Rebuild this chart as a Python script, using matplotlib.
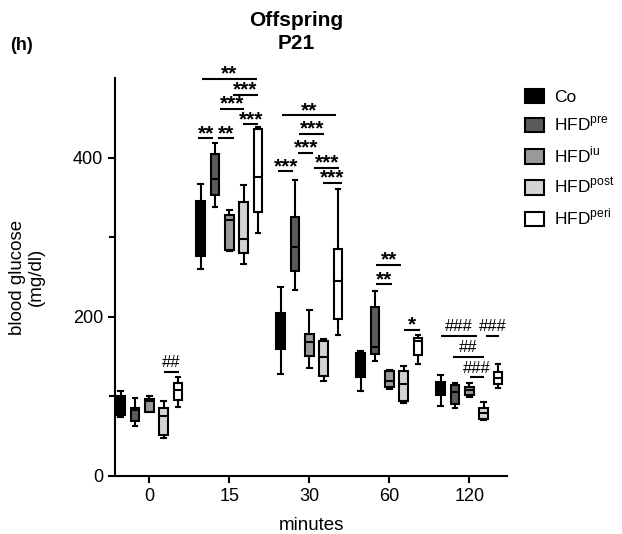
import matplotlib
matplotlib.use("Agg")
import matplotlib.pyplot as plt
from matplotlib.patches import Patch

plt.rcParams['font.family'] = ['Liberation Sans', 'DejaVu Sans']
plt.rcParams['mathtext.fontset'] = 'custom'
plt.rcParams['mathtext.rm'] = 'Liberation Sans'

# ---------------- data ----------------
time_labels = ["0", "15", "30", "60", "120"]
groups = ["Co", "HFD$^{\\mathregular{pre}}$", "HFD$^{\\mathregular{iu}}$",
          "HFD$^{\\mathregular{post}}$", "HFD$^{\\mathregular{peri}}$"]

# each row: [min, q1, median, q3, max] for time points 0, 15, 30, 60, 120
co_stats = [[74, 77, 88, 100, 107],
            [260, 276, 310, 346, 367],
            [128, 160, 185, 205, 237],
            [107, 124, 140, 155, 157],
            [88, 102, 110, 118, 127]]
pre_stats = [[63, 69, 83, 86, 98],
             [338, 353, 373, 405, 418],
             [234, 258, 288, 325, 372],
             [145, 153, 162, 212, 233],
             [86, 91, 105, 114, 117]]
iu_stats = [[80, 80, 94, 97, 100],
            [283, 284, 322, 328, 334],
            [136, 151, 168, 179, 209],
            [109, 112, 119, 132, 133],
            [99, 102, 108, 112, 117]]
post_stats = [[48, 52, 76, 86, 94],
              [266, 280, 298, 344, 366],
              [119, 126, 150, 170, 172],
              [92, 94, 115, 132, 138],
              [70, 72, 79, 85, 93]]
peri_stats = [[87, 96, 108, 117, 125],
              [305, 332, 375, 436, 438],
              [177, 197, 245, 285, 360],
              [141, 152, 170, 173, 177],
              [111, 116, 123, 131, 141]]

# significance annotations: (time index, from box, to box, y value, label)
sig_time = [0, 1, 1, 1, 1, 1, 1, 2, 2, 2, 2, 2, 2, 3, 3, 3, 4, 4, 4, 4]
sig_from = [3.03, 0.07, 2.22, 1.35, 2.98, -0.17, 1.22, -0.17, 0.07, 1.28, 1.19, 2.35, 2.94,
            1.07, 1.07, 3.05, 0.04, 3.15, 0.85, 2.05]
sig_to = [4.08, 3.92, 3.99, 3.02, 4.02, 0.88, 2.32, 0.88, 3.86, 3.03, 2.28, 4.1, 4.26,
          2.82, 2.17, 4.15, 2.54, 4.08, 2.99, 3.03]
sig_y = [131, 499, 479, 461, 442, 424, 424, 383, 453, 430, 406, 387, 368,
         265, 241, 184, 176, 176, 150, 124]
sig_text = ["##", "**", "***", "***", "***", "**", "**", "***", "**", "***", "***", "***", "***",
            "**", "**", "*", "###", "###", "##", "###"]

# ---------------- style ----------------
colors = ["#000000", "#5a5a5a", "#9a9a9a", "#d4d4d4", "#ffffff"]
spacing = 0.179
LW = 1.5

fig = plt.figure(figsize=(6.22, 5.34), dpi=100)
ax = fig.add_axes([115/622, 58/534, 392/622, 398/534])

all_stats = [co_stats, pre_stats, iu_stats, post_stats, peri_stats]
for k, (st, col) in enumerate(zip(all_stats, colors)):
    bstats = []
    pos = []
    for t, row in enumerate(st):
        lo, q1, med, q3, hi = row
        bstats.append(dict(whislo=lo, q1=q1, med=med, q3=q3, whishi=hi, fliers=[]))
        pos.append(t + (k - 2) * spacing)
    ax.bxp(bstats, positions=pos, widths=0.11, capwidths=0.06, showfliers=False,
           patch_artist=True,
           boxprops=dict(facecolor=col, edgecolor='black', linewidth=LW),
           medianprops=dict(color='black', linewidth=LW),
           whiskerprops=dict(color='black', linewidth=LW),
           capprops=dict(color='black', linewidth=LW),
           manage_ticks=False)

for t, a, b, y, s in zip(sig_time, sig_from, sig_to, sig_y, sig_text):
    x0 = t + (a - 2) * spacing
    x1 = t + (b - 2) * spacing
    ax.plot([x0, x1], [y, y], color='black', lw=LW, clip_on=False, solid_capstyle='butt')
    if '*' in s:
        ax.text((x0 + x1) / 2, y - 6, s, ha='center', va='bottom', fontsize=15,
                fontweight='bold', clip_on=False)
    else:
        ax.text((x0 + x1) / 2, y + 2, s, ha='center', va='bottom', fontsize=12,
                clip_on=False)

ax.set_xlim(-0.43, 4.47)
ax.set_ylim(0, 500)
ax.set_xticks(range(len(time_labels)))
ax.set_xticklabels(time_labels)
ax.set_yticks([0, 200, 400])
ax.set_yticks([100, 300], minor=True)
for sp in ['top', 'right']:
    ax.spines[sp].set_visible(False)
for sp in ['left', 'bottom']:
    ax.spines[sp].set_linewidth(LW)
ax.tick_params(axis='both', which='major', length=5, width=LW, labelsize=13, colors='black')
ax.tick_params(axis='y', which='minor', length=4, width=LW)
ax.set_xlabel("minutes", fontsize=13.5, labelpad=9)
ax.set_ylabel("blood glucose\n(mg/dl)", fontsize=13.5, labelpad=20)

fig.text(296/622, 1 - 32/534, "Offspring\nP21", ha='center', va='center',
         fontsize=15, fontweight='bold', linespacing=1.25)
fig.text(10/622, 1 - 45/534, "(h)", ha='left', va='center', fontsize=13, fontweight='bold')

handles = [Patch(facecolor=c, edgecolor='black', linewidth=LW) for c in colors]
fig.legend(handles, groups, loc='upper left', bbox_to_anchor=(518/622, 1 - 82/534),
           frameon=False, fontsize=12.5, handlelength=1.1, handleheight=0.9,
           labelspacing=0.62, handletextpad=0.6, borderaxespad=0)

fig.savefig("out.png", dpi=100)
